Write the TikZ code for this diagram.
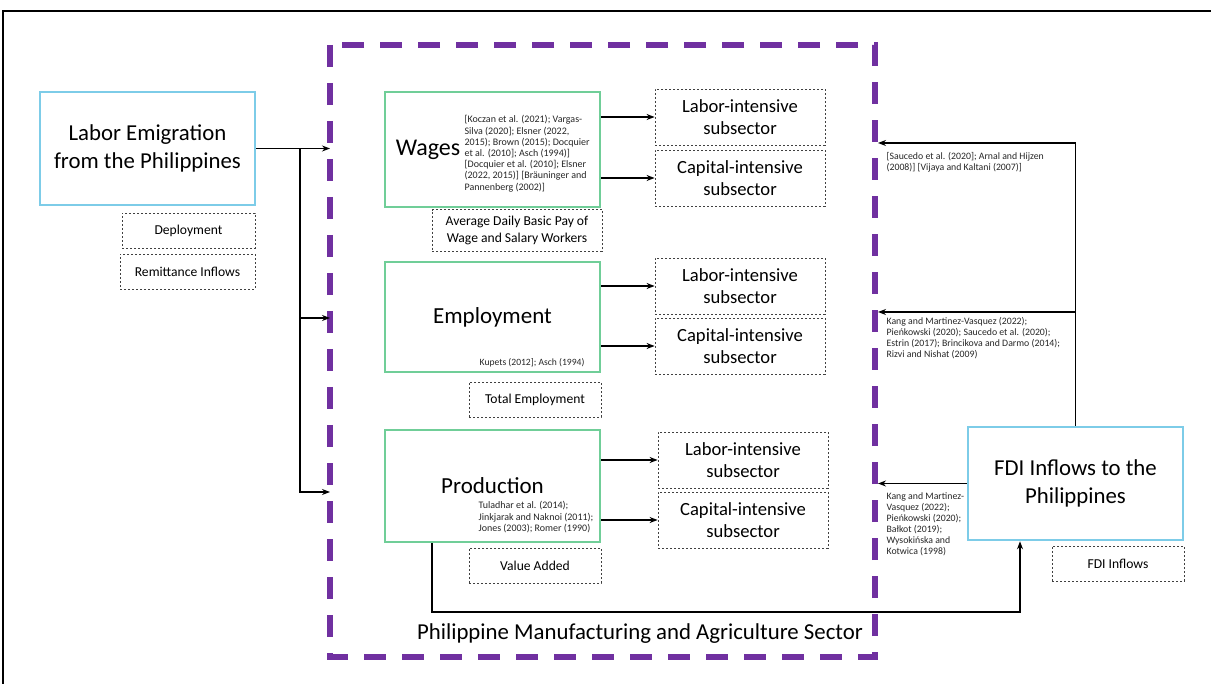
\documentclass[tikz,border=0pt]{standalone}
\usepackage{fontspec}
\setmainfont{Carlito}
\usetikzlibrary{arrows.meta}

\definecolor{frameblue}{RGB}{125,204,232}
\definecolor{factorgreen}{RGB}{112,206,152}
\definecolor{sectorpurple}{RGB}{112,48,160}

\begin{document}
\begin{tikzpicture}[x=.5pt,y=-.5pt,line width=.6pt,
  bigbox/.style={draw=frameblue,line width=1.3pt,minimum width=107.5pt,minimum height=56.5pt,align=center,font=\fontsize{11.4}{14}\selectfont},
  factorbox/.style={draw=factorgreen,line width=1.1pt,minimum width=107.5pt,align=center,font=\fontsize{11.5}{14}\selectfont},
  dashbox/.style={draw=black!75,line width=.4pt,dash pattern=on 1.2pt off .8pt,minimum height=17.5pt,align=center,font=\fontsize{6.8}{8.4}\selectfont},
  subbox/.style={dashbox,minimum width=85pt,minimum height=28pt,font=\fontsize{9.3}{11}\selectfont},
  cite/.style={inner sep=0pt,align=left,font=\fontsize{5}{5.6}\selectfont,text=black!85},
  arrow/.style={-{Stealth[length=4pt,width=3pt]}}]
\path[use as bounding box] (0,0) rectangle (1211,684);
% outer frame
\draw[line width=.8pt] (1211,11) -- (3,11) -- (3,684);
% sector
\draw[sectorpurple,line width=3pt,dash pattern=on 11pt off 8pt] (330,45) rectangle (875,657);
\node[font=\fontsize{11.4}{14}\selectfont] (sector) at (640,634) {Philippine Manufacturing and Agriculture Sector};

% left side
\node[bigbox] (emig) at (147.5,148.5) {Labor Emigration\\from the Philippines};
\node[dashbox,minimum width=66.5pt] (deploy) at (188.5,230.5) {Deployment};
\node[dashbox,minimum width=67.5pt] (remit) at (187.5,271.5) {Remittance Inflows};

% factors
\node[factorbox,minimum height=57.5pt] (wages) at (492.5,149.5) {};
\node[font=\fontsize{12}{14}\selectfont,inner sep=0pt] (wagesT) at (428,150) {Wages};
\node[cite,anchor=north west] (wagesC) at (464,115) {[Koczan et al. (2021); Vargas-\\Silva (2020]; Elsner (2022,\\2015); Brown (2015); Docquier\\et al. (2010]; Asch (1994)]\\{}[Docquier et al. (2010]; Elsner\\(2022, 2015)] [Br\"auninger and\\Pannenberg (2002)]};
\node[dashbox,minimum width=85pt] (avgpay) at (517,230.5) {Average Daily Basic Pay of\\Wage and Salary Workers};

\node[factorbox,minimum height=55pt] (employ) at (492.5,317) {Employment};
\node[cite,anchor=east,font=\fontsize{4.8}{5.6}\selectfont] (employC) at (585,363) {Kupets (2012]; Asch (1994)};
\node[dashbox,minimum width=66pt] (totemp) at (535,399.5) {Total Employment};

\node[factorbox,minimum height=56pt] (prod) at (492.5,486) {Production};
\node[cite,anchor=north west] (prodC) at (478,501) {Tuladhar et al. (2014);\\Jinkjarak and Naknoi (2011);\\Jones (2003); Romer (1990)};
\node[dashbox,minimum width=66pt] (valadd) at (535,565.5) {Value Added};

% subsectors
\node[subbox] (wlab) at (740,117) {Labor-intensive\\subsector};
\node[subbox] (wcap) at (740,178) {Capital-intensive\\subsector};
\node[subbox] (elab) at (740,286) {Labor-intensive\\subsector};
\node[subbox] (ecap) at (740,346) {Capital-intensive\\subsector};
\node[subbox] (plab) at (743,460) {Labor-intensive\\subsector};
\node[subbox] (pcap) at (743,520) {Capital-intensive\\subsector};

% right side
\node[bigbox] (fdi) at (1075.5,483.5) {FDI Inflows to the\\Philippines};
\node[dashbox,minimum width=66pt] (fdiin) at (1118,563.5) {FDI Inflows};
\node[cite,anchor=north west,font=\fontsize{4.9}{5.5}\selectfont] (fdiWC) at (886,152) {[Saucedo et al. (2020]; Arnal and Hijzen\\(2008)] [Vijaya and Kaltani (2007)]};
\node[cite,anchor=north west,font=\fontsize{4.9}{5.5}\selectfont] (fdiEC) at (886,317) {Kang and Martinez-Vasquez (2022);\\Pie\'nkowski (2020); Saucedo et al. (2020);\\Estrin (2017); Brincikova and Darmo (2014);\\Rizvi and Nishat (2009)};
\node[cite,anchor=north west,font=\fontsize{4.9}{5.5}\selectfont] (fdiPC) at (886,492) {Kang and Martinez-\\Vasquez (2022);\\Pie\'nkowski (2020);\\Ba\l{}kot (2019);\\Wysoki\'nska and\\Kotwica (1998)};

% connectors
\coordinate (split) at (300,148.5);
\coordinate (inE) at (330,318);
\coordinate (inP) at (330,492);
\draw[arrow] (emig.east) -- (emig.east -| inE);
\draw[arrow] (split) |- (inE);
\draw[arrow] (split) |- (inP);
\draw[arrow] (wages.east |- wlab.west) -- (wlab.west);
\draw[arrow] (wages.east |- wcap.west) -- (wcap.west);
\draw[arrow] (employ.east |- elab.west) -- (elab.west);
\draw[arrow] (employ.east |- ecap.west) -- (ecap.west);
\draw[arrow] (prod.east |- plab.west) -- (plab.west);
\draw[arrow] (prod.east |- pcap.west) -- (pcap.west);
\coordinate (fdiW) at (878,143);
\coordinate (fdiE) at (878,312);
\draw[arrow] (fdi.north) |- (fdiW);
\draw[arrow] (fdi.north |- fdiE) -- (fdiE);
\draw[arrow] (fdi.west) -- (fdi.west -| fdiW);
\coordinate (fbL) at (432,612);
\coordinate (fbR) at (1020,612);
\draw[arrow] (prod.south -| fbL) -- (fbL) -- (fbR) -- (fdi.south -| fbR);
\end{tikzpicture}
\end{document}
